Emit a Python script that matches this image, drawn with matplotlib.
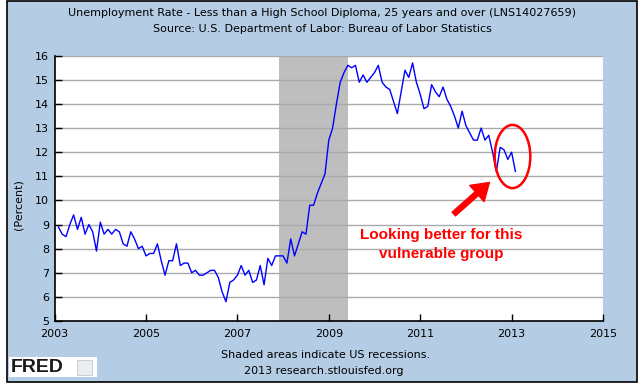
import matplotlib
matplotlib.use("Agg")
import matplotlib.pyplot as plt
from matplotlib.patches import Rectangle, Ellipse, FancyArrowPatch
import numpy as np

# Monthly series, Feb 2003 .. Feb 2013
start_year = 2003
start_month = 2
rate = [
    8.9, 8.6, 8.5, 9.0, 9.4, 8.8, 9.3, 8.6, 9.0, 8.7, 7.9,          # 2003 Feb-Dec
    9.1, 8.6, 8.8, 8.6, 8.8, 8.7, 8.2, 8.1, 8.7, 8.4, 8.0, 8.1,     # 2004
    7.7, 7.8, 7.8, 8.2, 7.5, 6.9, 7.5, 7.5, 8.2, 7.3, 7.4, 7.4,     # 2005
    7.0, 7.1, 6.9, 6.9, 7.0, 7.1, 7.1, 6.8, 6.2, 5.8, 6.6, 6.7,     # 2006
    6.9, 7.3, 6.9, 7.1, 6.6, 6.7, 7.3, 6.5, 7.6, 7.3, 7.7, 7.7,     # 2007
    7.7, 7.4, 8.4, 7.7, 8.2, 8.7, 8.6, 9.8, 9.8, 10.3, 10.7, 11.1,  # 2008
    12.5, 13.0, 14.0, 14.9, 15.3, 15.6, 15.5, 15.6, 14.9, 15.2, 14.9, 15.1,  # 2009
    15.3, 15.6, 14.9, 14.7, 14.6, 14.1, 13.6, 14.5, 15.4, 15.1, 15.7, 14.9,  # 2010
    14.4, 13.8, 13.9, 14.8, 14.5, 14.3, 14.7, 14.2, 13.9, 13.5, 13.0, 13.7,  # 2011
    13.1, 12.8, 12.5, 12.5, 13.0, 12.5, 12.7, 12.0, 11.2, 12.2, 12.1, 11.7,  # 2012
    12.0, 11.2,                                                      # 2013 Jan-Feb
]
recession_start = 2007 + 11 / 12   # Dec 2007
recession_end = 2009 + 5 / 12      # Jun 2009
x_ticks = [2003, 2005, 2007, 2009, 2011, 2013, 2015]
y_ticks = list(range(5, 17))

title1 = "Unemployment Rate - Less than a High School Diploma, 25 years and over (LNS14027659)"
title2 = "Source: U.S. Department of Labor: Bureau of Labor Statistics"
note = "Looking better for this\nvulnerable group"

months = np.arange(len(rate))
years = start_year + (start_month - 1 + months) / 12.0

W, H = 644, 388
bg = "#B4CDE5"
fig = plt.figure(figsize=(W / 100, H / 100), dpi=100)
fig.patch.set_facecolor("white")

def px(x, y):
    return x / W, 1 - y / H

# blue panel with black frame
fig.patches.append(Rectangle(px(7, 382), (637 - 7) / W, (382 - 1) / H,
                             transform=fig.transFigure, facecolor=bg,
                             edgecolor="black", linewidth=1.2, zorder=-10))

l, b = px(54.6, 321)
r, t = px(603, 55.7)
ax = fig.add_axes([l, b, r - l, t - b], zorder=1)
ax.set_facecolor("white")
ax.set_xlim(2003, 2015)
ax.set_ylim(5, 16)
ax.set_xticks(x_ticks)
ax.set_yticks(y_ticks)
ax.tick_params(direction="in", length=5, width=1, labelsize=8, colors="black", pad=4)
ax.tick_params(axis="x", pad=6)
for s in ["top", "right"]:
    ax.spines[s].set_visible(False)
for s in ["left", "bottom"]:
    ax.spines[s].set_linewidth(1.2)
ax.yaxis.grid(True, color="#AAAAAA", linewidth=1)
ax.set_axisbelow(True)
ax.axvspan(recession_start, recession_end, color="#BEBEBE", zorder=0.5, lw=0)
ax.plot(years, rate, color="#0000FF", linewidth=1.0, zorder=3)

# annotation
ax.add_patch(Ellipse((2013.02, 11.82), 0.78, 2.62, fill=False,
                     edgecolor="red", linewidth=1.8, zorder=4))
ax.add_patch(FancyArrowPatch((2011.69, 9.36), (2012.56, 10.82),
                             arrowstyle="simple,head_length=1.0,head_width=1.3,tail_width=0.3",
                             mutation_scale=12, color="red", zorder=4))
ax.text(2011.47, 8.85, note, color="red", fontsize=11, fontweight="bold",
        family="Liberation Sans", ha="center", va="top", linespacing=1.45, zorder=4)

# titles and labels
fig.text(*px(322, 13), title1, ha="center", va="center", fontsize=8)
fig.text(*px(322, 29), title2, ha="center", va="center", fontsize=8)
fig.text(*px(18, 205), "(Percent)", rotation=90, ha="center", va="center", fontsize=8)
fig.text(*px(326, 355), "Shaded areas indicate US recessions.", ha="center", va="center", fontsize=8)
fig.text(*px(324, 371), "2013 research.stlouisfed.org", ha="center", va="center", fontsize=8)

# FRED logo
fig.patches.append(Rectangle(px(9, 377), (97 - 9) / W, (377 - 357) / H,
                             transform=fig.transFigure, facecolor="white",
                             edgecolor="none", zorder=1))
fig.text(*px(11, 367.5), "FRED", ha="left", va="center", fontsize=14,
         fontweight="heavy", family="Liberation Sans", color="#1a1a1a")
fig.patches.append(Rectangle(px(77, 375), 15 / W, 15 / H,
                             transform=fig.transFigure, facecolor="#E8EEF0",
                             edgecolor="#C8C8C8", linewidth=0.6, zorder=2))

fig.savefig("out.png", dpi=100, facecolor=fig.get_facecolor())
